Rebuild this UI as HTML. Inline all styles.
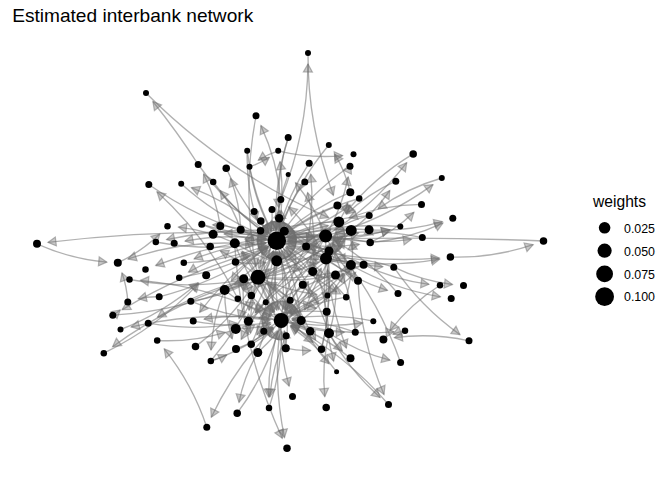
<!DOCTYPE html>
<html><head><meta charset="utf-8"><style>
html,body{margin:0;padding:0;background:#fff;width:672px;height:480px;overflow:hidden}
svg{position:absolute;left:0;top:0}
text{font-family:"Liberation Sans",sans-serif}
</style></head><body>
<svg width="672" height="480" viewBox="0 0 672 480">
<rect width="672" height="480" fill="#fff"/>
<text x="12.2" y="21.9" font-size="18.6" textLength="241" lengthAdjust="spacingAndGlyphs" fill="#000">Estimated interbank network</text>
<g fill="none" stroke="#707070" stroke-opacity="0.55" stroke-width="1.35"><path d="M198.2,164.5Q177.2,131.8 152.9,101.5"/><path d="M146.0,93.0Q225.6,172.8 328.6,217.6"/><path d="M280.8,199.5Q307.0,134.1 308.0,64.0"/><path d="M308.0,53.0Q307.5,126.7 333.4,195.3"/><path d="M280.8,199.5Q277.2,160.7 260.9,125.6"/><path d="M256.0,115.8Q241.9,191.3 255.8,266.4"/><path d="M288.2,137.5Q277.3,171.7 278.5,207.2"/><path d="M328.8,145.0Q296.7,183.4 280.3,230.3"/><path d="M350.3,192.3Q345.5,171.9 334.8,154.2"/><path d="M247.2,150.8Q246.1,186.5 256.9,220.3"/><path d="M278.2,150.8Q267.6,154.2 258.3,160.2"/><path d="M249.5,166.8Q260.2,163.3 269.4,157.3"/><path d="M278.2,150.8Q310.2,158.7 342.6,155.6"/><path d="M276.8,240.7Q285.3,201.3 280.0,161.6"/><path d="M309.2,163.2Q288.4,194.2 279.2,230.0"/><path d="M220.3,226.1Q216.2,198.6 203.6,174.1"/><path d="M198.2,164.5Q226.8,205.9 267.7,234.6"/><path d="M240.7,229.8Q239.8,203.1 230.5,178.4"/><path d="M226.2,168.2Q242.1,204.5 269.0,232.9"/><path d="M306.1,246.6Q314.7,210.6 310.7,174.2"/><path d="M325.6,236.0Q315.0,206.7 295.5,182.8"/><path d="M288.2,174.5Q277.9,201.3 276.9,229.7"/><path d="M304.8,182.0Q288.2,204.1 279.8,230.1"/><path d="M312.7,271.5Q317.1,231.4 307.6,192.6"/><path d="M276.8,240.7Q238.8,206.4 191.5,187.6"/><path d="M181.2,183.8Q219.2,218.1 266.5,236.8"/><path d="M240.7,229.8Q233.5,208.4 220.2,190.5"/><path d="M213.2,182.0Q235.9,213.2 267.6,234.7"/><path d="M276.8,240.7Q281.3,225.8 281.3,210.5"/><path d="M254.2,211.5Q260.1,223.4 268.9,233.0"/><path d="M272.0,209.5Q271.5,220.0 273.7,230.1"/><path d="M148.8,184.5Q202.6,222.2 266.1,238.2"/><path d="M237.8,298.7Q207.2,237.6 157.0,191.8"/><path d="M37.0,243.8Q70.4,259.0 106.8,262.1"/><path d="M117.8,262.8Q141.3,251.8 159.8,234.1"/><path d="M155.8,242.0Q211.0,252.4 266.0,242.8"/><path d="M234.8,243.2Q179.8,241.4 128.1,259.0"/><path d="M325.6,236.0Q237.7,234.8 155.8,265.5"/><path d="M276.8,240.7Q230.7,232.7 185.0,241.1"/><path d="M325.6,236.0Q257.5,235.3 194.1,258.8"/><path d="M179.2,277.8Q226.3,269.9 267.4,246.4"/><path d="M159.2,296.8Q148.5,296.4 138.3,298.8"/><path d="M159.2,296.8Q218.3,281.8 267.9,247.1"/><path d="M234.8,243.2Q207.8,230.3 178.5,227.1"/><path d="M281.2,320.4Q214.4,287.2 140.5,280.4"/><path d="M129.5,279.5Q188.6,290.2 247.2,279.4"/><path d="M127.8,302.0Q127.0,286.9 122.0,272.9"/><path d="M112.8,315.2Q116.7,312.9 120.2,310.0"/><path d="M112.8,315.2Q183.7,311.1 248.0,281.9"/><path d="M281.2,320.4Q205.4,309.7 131.2,326.9"/><path d="M258.0,277.2Q203.9,288.2 157.5,317.2"/><path d="M148.2,323.2Q193.1,331.3 237.6,323.4"/><path d="M120.5,329.5Q163.6,312.9 198.1,282.7"/><path d="M206.8,427.2Q192.4,384.2 164.3,348.9"/><path d="M157.2,340.5Q192.1,342.3 225.3,332.3"/><path d="M258.0,277.2Q178.6,298.4 112.6,346.7"/><path d="M103.8,353.2Q157.8,326.9 198.8,283.4"/><path d="M224.7,290.0Q212.7,319.0 211.0,350.0"/><path d="M276.8,240.7Q231.6,269.6 199.7,312.2"/><path d="M276.8,240.7Q246.0,227.2 212.8,224.8"/><path d="M201.8,224.3Q257.2,240.9 314.6,236.9"/><path d="M190.8,301.2Q221.3,296.8 248.4,282.6"/><path d="M325.6,236.0Q216.7,253.5 122.2,309.6"/><path d="M193.2,321.1Q231.9,328.5 270.4,322.4"/><path d="M281.2,320.4Q242.6,313.0 204.1,319.1"/><path d="M195.5,346.6Q229.3,321.4 252.2,286.5"/><path d="M210.8,361.0Q219.2,358.9 226.7,354.9"/><path d="M276.8,240.7Q229.7,248.6 188.6,272.1"/><path d="M325.6,236.0Q245.5,222.9 166.5,239.6"/><path d="M325.6,236.0Q372.9,206.6 406.7,162.7"/><path d="M413.2,153.9Q373.9,177.6 345.4,213.2"/><path d="M351.2,230.4Q374.0,213.5 389.8,190.5"/><path d="M395.8,181.2Q368.2,193.6 346.5,214.1"/><path d="M325.6,236.0Q384.2,220.1 433.0,184.6"/><path d="M441.8,178.0Q407.1,188.0 378.0,208.9"/><path d="M421.5,204.4Q383.9,204.8 349.0,217.8"/><path d="M369.1,229.8Q406.6,232.0 442.3,221.6"/><path d="M370.2,242.6Q408.4,239.2 442.9,223.1"/><path d="M370.2,242.6Q394.7,231.0 413.9,212.3"/><path d="M350.0,166.2Q350.4,165.5 350.7,164.8"/><path d="M325.6,236.0Q342.0,208.3 348.2,177.0"/><path d="M338.8,221.9Q344.5,212.9 347.7,203.0"/><path d="M359.2,198.5Q319.1,209.9 285.6,234.1"/><path d="M337.4,205.5Q308.8,215.3 285.3,233.7"/><path d="M369.2,215.6Q350.7,220.1 334.7,229.9"/><path d="M400.3,226.6Q342.6,221.8 287.3,237.5"/><path d="M276.8,240.7Q334.5,245.5 389.8,229.8"/><path d="M369.1,229.8Q369.4,228.2 369.6,226.6"/><path d="M350.3,192.3Q313.8,207.1 284.8,233.2"/><path d="M276.8,240.7Q316.9,229.3 350.4,205.1"/><path d="M370.2,242.6Q329.1,233.5 287.7,239.0"/><path d="M276.8,240.7Q318.5,244.0 358.6,232.9"/><path d="M543.5,241.0Q415.7,235.7 287.8,240.3"/><path d="M325.6,236.0Q186.4,225.8 47.9,242.4"/><path d="M450.4,257.1Q493.0,258.2 533.2,244.7"/><path d="M422.3,237.6Q379.5,228.3 336.5,234.3"/><path d="M325.6,236.0Q368.4,245.3 411.4,239.3"/><path d="M326.0,258.5Q382.9,269.2 439.6,259.2"/><path d="M393.8,267.2Q421.9,280.9 452.5,284.5"/><path d="M350.9,265.0Q392.9,289.0 440.4,296.8"/><path d="M363.6,264.7Q394.8,280.2 429.0,284.3"/><path d="M276.8,240.7Q356.7,264.7 439.4,258.1"/><path d="M398.0,293.5Q371.1,261.7 335.3,241.2"/><path d="M326.0,258.5Q354.1,279.9 387.4,290.4"/><path d="M373.3,321.2Q332.7,312.7 292.0,318.6"/><path d="M281.2,320.4Q336.8,336.4 394.1,331.8"/><path d="M276.8,240.7Q327.6,263.4 382.8,266.7"/><path d="M393.8,267.2Q366.0,257.8 337.0,258.1"/><path d="M276.8,240.7Q317.9,249.8 359.3,244.3"/><path d="M325.6,236.0Q358.4,238.4 389.8,229.8"/><path d="M469.0,340.8Q431.7,332.7 394.3,337.7"/><path d="M393.8,267.2Q420.9,306.9 459.9,334.6"/><path d="M440.0,285.3Q411.0,303.7 389.9,330.6"/><path d="M405.0,330.7Q398.8,331.9 393.1,334.2"/><path d="M400.6,362.5Q377.6,297.0 332.8,244.3"/><path d="M358.0,280.8Q360.6,340.2 384.0,394.5"/><path d="M329.0,333.3Q357.3,352.0 389.9,360.1"/><path d="M329.0,333.3Q349.0,370.0 380.1,397.4"/><path d="M281.2,320.4Q311.9,331.8 344.3,332.3"/><path d="M355.3,332.2Q350.6,286.6 330.6,245.8"/><path d="M281.2,320.4Q321.8,328.9 362.5,323.0"/><path d="M326.0,258.5Q320.5,310.7 333.6,361.2"/><path d="M325.6,236.0Q325.8,294.1 346.4,348.0"/><path d="M350.5,358.2Q323.9,335.9 291.6,324.0"/><path d="M234.8,243.2Q240.1,345.4 282.3,438.3"/><path d="M281.2,320.4Q272.2,379.5 284.5,437.5"/><path d="M281.2,320.4Q279.5,354.1 289.1,386.1"/><path d="M281.2,320.4Q268.2,357.8 268.6,397.0"/><path d="M286.2,335.8Q272.7,365.2 269.7,397.0"/><path d="M237.2,413.2Q265.2,375.7 278.3,331.0"/><path d="M257.8,352.5Q244.2,376.0 239.0,402.4"/><path d="M281.2,320.4Q237.3,362.6 211.3,417.2"/><path d="M329.0,333.3Q321.5,364.7 324.8,396.6"/><path d="M251.2,344.2Q272.0,300.0 276.1,251.7"/><path d="M257.8,352.5Q276.5,303.7 276.9,251.7"/><path d="M285.8,348.2Q291.4,299.1 279.6,251.3"/><path d="M321.5,349.2Q333.6,298.4 327.2,246.9"/><path d="M301.2,320.5Q311.6,344.6 329.0,363.8"/><path d="M285.8,348.2Q298.1,351.1 310.6,350.5"/><path d="M329.0,333.3Q334.5,343.1 342.3,350.9"/><path d="M388.5,404.5Q346.8,355.9 290.9,325.5"/><path d="M236.0,349.0Q256.3,341.2 272.9,327.7"/><path d="M281.2,320.4Q268.8,326.8 258.8,336.2"/><path d="M210.8,361.0Q252.3,311.7 273.3,251.1"/><path d="M201.8,224.3Q232.6,237.8 265.8,240.2"/><path d="M240.7,229.8Q252.8,236.2 265.9,239.0"/><path d="M260.8,221.0Q264.2,227.5 268.9,233.0"/><path d="M249.5,166.8Q254.9,201.0 271.3,231.2"/><path d="M247.2,150.8Q252.4,193.2 271.6,231.0"/><path d="M280.8,199.5Q276.3,214.4 276.2,229.7"/><path d="M288.2,137.5Q273.9,182.7 276.1,229.7"/><path d="M350.0,166.2Q310.5,193.0 283.0,231.6"/><path d="M369.2,215.6Q326.0,218.5 286.7,236.0"/><path d="M369.1,229.8Q327.4,226.4 287.3,237.5"/><path d="M329.0,251.0Q309.0,242.7 287.8,241.1"/><path d="M363.6,264.7Q327.5,246.5 287.7,241.7"/><path d="M358.0,280.8Q325.8,256.0 287.4,243.8"/><path d="M346.2,297.2Q320.7,266.3 286.4,246.1"/><path d="M327.5,295.4Q310.5,267.7 285.5,247.4"/><path d="M329.0,333.3Q313.9,287.0 283.8,249.2"/><path d="M301.2,320.5Q297.5,283.7 281.8,250.5"/><path d="M281.2,320.4Q286.2,285.6 279.3,251.4"/><path d="M276.7,260.8Q277.6,256.2 277.7,251.7"/><path d="M248.4,321.2Q267.8,288.6 275.0,251.5"/><path d="M251.3,295.5Q266.3,275.1 273.8,251.3"/><path d="M258.0,277.2Q267.6,265.2 273.2,251.1"/><path d="M224.7,290.0Q251.0,273.5 270.2,249.5"/><path d="M235.5,262.0Q252.9,257.0 267.9,247.2"/><path d="M183.8,262.8Q227.0,261.2 266.7,245.1"/><path d="M234.8,243.2Q250.6,245.4 266.0,243.0"/><path d="M190.8,301.2Q229.0,317.7 270.2,320.0"/><path d="M224.7,290.0Q245.6,307.3 270.8,316.8"/><path d="M251.3,295.5Q260.3,306.6 271.8,314.6"/><path d="M265.8,302.2Q269.0,308.0 273.2,312.8"/><path d="M234.8,243.2Q248.4,281.2 274.0,312.1"/><path d="M258.0,277.2Q263.7,295.8 274.6,311.6"/><path d="M260.5,230.7Q261.7,272.1 276.9,310.3"/><path d="M276.8,240.7Q271.8,275.5 278.7,309.7"/><path d="M306.1,246.6Q289.0,276.2 282.9,309.5"/><path d="M325.6,236.0Q298.4,269.5 284.5,309.9"/><path d="M302.8,284.7Q292.2,296.3 285.5,310.3"/><path d="M329.0,251.0Q302.1,277.1 285.8,310.4"/><path d="M335.5,275.0Q308.7,289.6 288.3,312.0"/><path d="M363.6,264.7Q321.9,282.2 289.1,312.7"/><path d="M327.5,295.4Q307.1,301.6 289.9,313.7"/><path d="M346.2,297.2Q316.9,301.5 290.8,315.0"/><path d="M301.2,320.5Q296.7,319.6 292.2,319.5"/><path d="M355.3,332.2Q324.6,320.8 292.2,320.3"/><path d="M310.2,331.2Q301.5,325.8 291.9,322.9"/><path d="M321.5,349.2Q308.0,334.8 291.0,325.3"/><path d="M336.6,371.8Q317.3,345.0 290.4,326.4"/><path d="M285.8,348.2Q286.1,339.4 284.3,331.0"/><path d="M269.0,408.0Q282.0,370.6 281.6,331.4"/><path d="M251.2,344.2Q263.7,337.9 273.7,328.4"/><path d="M263.8,331.2Q268.3,329.5 272.4,327.0"/><path d="M210.8,361.0Q244.8,349.5 272.7,327.4"/><path d="M235.8,328.9Q253.8,329.1 270.8,324.0"/><path d="M240.7,229.8Q277.2,239.9 314.7,237.1"/><path d="M358.0,280.8Q348.6,260.2 333.4,243.8"/><path d="M276.7,260.8Q298.3,254.8 316.7,242.5"/><path d="M351.2,230.4Q343.4,230.5 336.0,232.4"/><path d="M279.2,218.2Q295.2,238.7 316.6,252.8"/><path d="M321.5,349.2Q331.5,309.7 327.4,269.4"/><path d="M257.8,352.5Q297.2,316.1 321.2,268.4"/><path d="M276.7,260.8Q306.4,249.5 330.5,229.2"/><path d="M284.3,231.3Q306.9,231.9 328.3,225.5"/><path d="M224.7,290.0Q283.3,269.2 330.5,229.2"/><path d="M312.7,271.5Q331.6,258.0 345.1,239.5"/><path d="M258.0,277.2Q304.0,264.6 342.4,237.0"/><path d="M346.2,297.2Q353.9,269.6 352.2,241.4"/><path d="M235.5,262.0Q250.7,264.6 265.9,262.7"/><path d="M350.9,265.0Q319.6,256.9 287.6,259.6"/><path d="M338.8,221.9Q290.2,222.1 245.0,239.1"/><path d="M285.8,348.2Q272.2,296.0 241.3,252.1"/><path d="M251.3,295.5Q243.5,306.2 239.0,318.4"/><path d="M363.6,264.7Q298.6,282.6 244.5,322.3"/><path d="M326.7,311.7Q292.1,309.1 258.9,318.1"/><path d="M351.2,230.4Q295.5,262.8 255.2,312.6"/><path d="M234.8,243.2Q266.2,262.3 301.9,269.6"/><path d="M301.2,320.5Q327.2,301.0 345.0,274.3"/><path d="M279.2,218.2Q306.4,244.9 340.8,260.7"/><path d="M290.2,300.3Q280.2,289.6 267.8,282.3"/><path d="M301.2,320.5Q287.0,299.1 266.9,283.6"/><path d="M258.0,277.2Q264.2,273.7 269.3,268.9"/><path d="M258.0,277.2Q290.7,265.3 317.3,243.2"/><path d="M258.0,277.2Q286.0,290.8 316.5,294.4"/><path d="M258.0,277.2Q249.5,304.8 250.5,333.3"/><path d="M258.0,277.2Q291.5,282.9 324.7,277.2"/><path d="M258.0,277.2Q245.5,279.3 234.3,284.7"/><path d="M258.0,277.2Q252.0,263.0 242.3,251.3"/><path d="M258.0,277.2Q241.2,260.9 220.3,250.9"/><path d="M258.0,277.2Q279.8,314.8 312.9,342.4"/><path d="M258.0,277.2Q262.5,259.6 261.6,241.6"/><path d="M258.0,277.2Q254.9,257.2 246.0,239.4"/><path d="M258.0,277.2Q251.0,293.2 249.1,310.3"/><path d="M258.0,277.2Q272.2,298.6 292.3,314.1"/><path d="M258.0,277.2Q255.7,280.9 254.2,284.9"/><path d="M258.0,277.2Q288.4,275.0 316.0,263.1"/><path d="M258.0,277.2Q274.6,245.5 279.5,210.4"/><path d="M258.0,277.2Q306.5,281.1 353.1,267.9"/><path d="M258.0,277.2Q284.5,297.9 316.2,308.5"/><path d="M258.0,277.2Q269.6,249.8 271.6,220.5"/><path d="M258.0,277.2Q250.3,282.7 244.3,289.8"/><path d="M276.8,240.7Q250.5,257.2 231.3,281.2"/><path d="M276.8,240.7Q292.4,276.1 318.9,303.9"/><path d="M276.8,240.7Q302.3,271.6 336.6,291.8"/><path d="M276.8,240.7Q261.0,238.5 245.6,240.9"/><path d="M276.8,240.7Q287.2,294.0 315.6,340.0"/><path d="M281.2,320.4Q298.0,303.1 308.3,281.6"/><path d="M281.2,320.4Q284.5,315.8 286.7,310.7"/><path d="M281.2,320.4Q316.7,302.2 343.6,273.2"/><path d="M281.2,320.4Q322.9,302.9 355.7,272.4"/><path d="M325.6,236.0Q318.5,247.7 315.0,260.7"/><path d="M325.6,236.0Q273.7,280.0 241.2,339.3"/><path d="M325.6,236.0Q335.0,256.6 350.2,273.0"/><path d="M326.0,258.5Q333.2,246.3 336.6,232.7"/><path d="M326.0,258.5Q311.7,229.4 288.8,207.0"/><path d="M326.0,258.5Q285.8,279.6 255.6,312.9"/><path d="M243.7,278.7Q255.9,312.5 278.5,339.9"/><path d="M243.7,278.7Q241.4,306.7 248.2,333.7"/><path d="M224.7,290.0Q224.5,315.1 232.2,338.7"/><path d="M224.7,290.0Q288.6,274.2 342.3,236.8"/><path d="M329.0,251.0Q277.9,232.9 224.1,233.9"/><path d="M329.0,333.3Q336.4,310.1 336.1,286.0"/><path d="M329.0,333.3Q326.6,293.2 310.7,256.6"/><path d="M351.2,230.4Q294.2,274.0 256.9,334.8"/><path d="M351.2,230.4Q320.8,266.2 304.8,310.1"/><path d="M338.8,221.9Q292.5,247.3 258.3,287.0"/><path d="M338.8,221.9Q325.5,260.4 326.3,300.7"/></g>
<g fill="#707070" fill-opacity="0.38" stroke="#707070" stroke-opacity="0.5" stroke-width="1.2"><polygon points="152.9,101.5 161.5,105.0 154.4,110.6"/><polygon points="328.6,217.6 319.5,218.5 323.1,210.3"/><polygon points="308.0,64.0 312.4,72.1 303.4,71.9"/><polygon points="333.4,195.3 326.4,189.4 334.8,186.2"/><polygon points="260.9,125.6 268.3,131.0 260.2,134.8"/><polygon points="255.8,266.4 250.0,259.4 258.8,257.7"/><polygon points="278.5,207.2 273.8,199.4 282.8,199.1"/><polygon points="280.3,230.3 278.7,221.2 287.2,224.2"/><polygon points="334.8,154.2 342.8,158.7 335.1,163.3"/><polygon points="256.9,220.3 250.2,214.1 258.7,211.3"/><polygon points="258.3,160.2 262.6,152.1 267.5,159.6"/><polygon points="269.4,157.3 265.2,165.4 260.3,157.9"/><polygon points="342.6,155.6 335.0,160.8 334.2,151.8"/><polygon points="280.0,161.6 285.5,168.9 276.6,170.1"/><polygon points="279.2,230.0 276.9,221.1 285.6,223.3"/><polygon points="203.6,174.1 211.3,179.2 203.3,183.3"/><polygon points="267.7,234.6 258.5,233.6 263.7,226.3"/><polygon points="230.5,178.4 237.5,184.3 229.1,187.5"/><polygon points="269.0,232.9 260.3,230.2 266.8,224.0"/><polygon points="310.7,174.2 316.1,181.6 307.1,182.6"/><polygon points="295.5,182.8 304.0,186.2 297.0,191.9"/><polygon points="276.9,229.7 272.7,221.5 281.7,221.9"/><polygon points="279.8,230.1 278.0,221.1 286.6,223.9"/><polygon points="307.6,192.6 313.9,199.3 305.1,201.5"/><polygon points="191.5,187.6 200.6,186.4 197.3,194.8"/><polygon points="266.5,236.8 257.4,238.1 260.7,229.7"/><polygon points="220.2,190.5 228.6,194.3 221.3,199.7"/><polygon points="267.6,234.7 258.4,233.9 263.5,226.5"/><polygon points="281.3,210.5 285.8,218.5 276.8,218.5"/><polygon points="268.9,233.0 260.2,230.1 266.9,224.1"/><polygon points="273.7,230.1 267.6,223.3 276.4,221.4"/><polygon points="266.1,238.2 257.2,240.6 259.4,231.9"/><polygon points="157.0,191.8 165.9,193.9 159.8,200.5"/><polygon points="106.8,262.1 98.4,265.9 99.2,256.9"/><polygon points="159.8,234.1 157.1,242.8 150.9,236.3"/><polygon points="266.0,242.8 258.9,248.6 257.3,239.7"/><polygon points="128.1,259.0 134.2,252.2 137.1,260.7"/><polygon points="155.8,265.5 161.7,258.5 164.8,266.9"/><polygon points="185.0,241.1 192.0,235.2 193.7,244.1"/><polygon points="194.1,258.8 200.0,251.8 203.1,260.3"/><polygon points="267.4,246.4 262.7,254.2 258.2,246.4"/><polygon points="138.3,298.8 145.1,292.6 147.1,301.4"/><polygon points="267.9,247.1 263.9,255.4 258.8,248.0"/><polygon points="178.5,227.1 186.9,223.5 185.9,232.5"/><polygon points="140.5,280.4 148.9,276.6 148.0,285.6"/><polygon points="247.2,279.4 240.2,285.2 238.5,276.4"/><polygon points="122.0,272.9 128.9,278.9 120.4,281.9"/><polygon points="120.2,310.0 117.0,318.6 111.2,311.7"/><polygon points="248.0,281.9 242.6,289.3 238.9,281.1"/><polygon points="131.2,326.9 138.0,320.7 140.0,329.5"/><polygon points="157.5,317.2 161.9,309.2 166.6,316.8"/><polygon points="237.6,323.4 230.5,329.2 229.0,320.3"/><polygon points="198.1,282.7 195.0,291.4 189.1,284.6"/><polygon points="164.3,348.9 172.8,352.4 165.8,358.0"/><polygon points="225.3,332.3 218.9,338.9 216.3,330.3"/><polygon points="112.6,346.7 116.4,338.3 121.7,345.6"/><polygon points="198.8,283.4 196.6,292.3 190.0,286.1"/><polygon points="211.0,350.0 207.0,341.8 216.0,342.3"/><polygon points="199.7,312.2 200.9,303.1 208.1,308.5"/><polygon points="212.8,224.8 221.1,220.9 220.4,229.9"/><polygon points="314.6,236.9 307.0,242.0 306.4,233.0"/><polygon points="248.4,282.6 243.4,290.3 239.2,282.3"/><polygon points="122.2,309.6 126.8,301.6 131.3,309.4"/><polygon points="270.4,322.4 263.2,328.1 261.8,319.2"/><polygon points="204.1,319.1 211.3,313.4 212.7,322.3"/><polygon points="252.2,286.5 251.5,295.7 244.0,290.7"/><polygon points="226.7,354.9 221.7,362.6 217.5,354.6"/><polygon points="188.6,272.1 193.3,264.3 197.8,272.1"/><polygon points="166.5,239.6 173.4,233.6 175.2,242.4"/><polygon points="406.7,162.7 405.4,171.8 398.2,166.3"/><polygon points="345.4,213.2 347.0,204.1 354.0,209.8"/><polygon points="389.8,190.5 389.0,199.6 381.6,194.5"/><polygon points="346.5,214.1 349.3,205.3 355.4,211.9"/><polygon points="433.0,184.6 429.2,192.9 423.9,185.6"/><polygon points="378.0,208.9 381.8,200.6 387.1,207.9"/><polygon points="349.0,217.8 354.9,210.8 358.0,219.3"/><polygon points="442.3,221.6 435.8,228.1 433.3,219.5"/><polygon points="442.9,223.1 437.5,230.6 433.7,222.4"/><polygon points="413.9,212.3 411.3,221.1 405.0,214.7"/><polygon points="350.7,164.8 351.4,174.0 343.2,170.2"/><polygon points="348.2,177.0 351.0,185.8 342.2,184.0"/><polygon points="347.7,203.0 349.5,212.0 340.9,209.2"/><polygon points="285.6,234.1 289.4,225.7 294.7,233.0"/><polygon points="285.3,233.7 288.8,225.2 294.3,232.3"/><polygon points="334.7,229.9 339.2,221.9 343.9,229.6"/><polygon points="287.3,237.5 293.8,231.0 296.2,239.7"/><polygon points="389.8,229.8 383.3,236.3 380.9,227.6"/><polygon points="369.6,226.6 373.1,235.1 364.2,234.0"/><polygon points="284.8,233.2 287.8,224.5 293.8,231.2"/><polygon points="350.4,205.1 346.6,213.5 341.3,206.2"/><polygon points="287.7,239.0 295.0,233.5 296.2,242.4"/><polygon points="358.6,232.9 352.0,239.4 349.7,230.7"/><polygon points="287.8,240.3 295.6,235.5 295.9,244.5"/><polygon points="47.9,242.4 55.3,237.0 56.4,245.9"/><polygon points="533.2,244.7 527.0,251.5 524.1,243.0"/><polygon points="336.5,234.3 343.8,228.7 345.0,237.6"/><polygon points="411.4,239.3 404.1,244.9 402.9,236.0"/><polygon points="439.6,259.2 432.5,265.0 430.9,256.1"/><polygon points="452.5,284.5 444.1,288.0 445.1,279.1"/><polygon points="440.4,296.8 431.7,299.9 433.2,291.1"/><polygon points="429.0,284.3 420.6,287.8 421.6,278.9"/><polygon points="439.4,258.1 431.8,263.2 431.1,254.2"/><polygon points="335.3,241.2 344.5,241.3 340.0,249.1"/><polygon points="387.4,290.4 378.4,292.3 381.2,283.7"/><polygon points="292.0,318.6 299.3,313.0 300.6,321.9"/><polygon points="394.1,331.8 386.4,336.9 385.7,327.9"/><polygon points="382.8,266.7 374.5,270.7 375.1,261.7"/><polygon points="337.0,258.1 345.0,253.5 345.0,262.5"/><polygon points="359.3,244.3 352.0,249.8 350.8,240.9"/><polygon points="389.8,229.8 383.2,236.2 380.9,227.5"/><polygon points="394.3,337.7 401.6,332.2 402.8,341.1"/><polygon points="459.9,334.6 450.8,333.6 456.0,326.3"/><polygon points="389.9,330.6 391.4,321.5 398.4,327.1"/><polygon points="393.1,334.2 398.8,327.0 402.2,335.3"/><polygon points="332.8,244.3 341.4,247.5 334.6,253.3"/><polygon points="384.0,394.5 376.7,388.9 385.0,385.3"/><polygon points="389.9,360.1 381.0,362.5 383.2,353.8"/><polygon points="380.1,397.4 371.1,395.5 377.1,388.7"/><polygon points="344.3,332.3 336.2,336.7 336.4,327.7"/><polygon points="330.6,245.8 338.2,251.0 330.1,254.9"/><polygon points="362.5,323.0 355.2,328.6 353.9,319.7"/><polygon points="333.6,361.2 327.3,354.5 336.0,352.3"/><polygon points="346.4,348.0 339.4,342.2 347.8,339.0"/><polygon points="291.6,324.0 300.7,322.5 297.5,331.0"/><polygon points="282.3,438.3 274.9,432.9 283.1,429.1"/><polygon points="284.5,437.5 278.5,430.6 287.3,428.8"/><polygon points="289.1,386.1 282.5,379.7 291.1,377.1"/><polygon points="268.6,397.0 264.0,389.1 273.0,389.0"/><polygon points="269.7,397.0 266.0,388.6 275.0,389.5"/><polygon points="278.3,331.0 280.4,340.0 271.7,337.4"/><polygon points="239.0,402.4 236.2,393.7 245.0,395.4"/><polygon points="211.3,417.2 210.7,408.1 218.8,412.0"/><polygon points="324.8,396.6 319.5,389.1 328.5,388.2"/><polygon points="276.1,251.7 279.9,260.0 270.9,259.3"/><polygon points="276.9,251.7 281.3,259.7 272.3,259.7"/><polygon points="279.6,251.3 285.9,258.0 277.2,260.2"/><polygon points="327.2,246.9 332.6,254.3 323.7,255.4"/><polygon points="329.0,363.8 320.3,360.9 327.0,354.9"/><polygon points="310.6,350.5 302.8,355.3 302.4,346.3"/><polygon points="342.3,350.9 333.5,348.4 339.9,342.1"/><polygon points="290.9,325.5 300.1,325.4 295.8,333.3"/><polygon points="272.9,327.7 269.6,336.2 263.9,329.2"/><polygon points="258.8,336.2 261.5,327.5 267.7,334.0"/><polygon points="273.3,251.1 274.9,260.2 266.4,257.2"/><polygon points="265.8,240.2 257.5,244.1 258.2,235.1"/><polygon points="265.9,239.0 257.2,241.8 259.0,233.0"/><polygon points="268.9,233.0 260.3,229.8 267.2,224.0"/><polygon points="271.3,231.2 263.5,226.3 271.4,222.0"/><polygon points="271.6,231.0 264.0,225.9 272.0,221.8"/><polygon points="276.2,229.7 271.8,221.7 280.8,221.7"/><polygon points="276.1,229.7 271.2,221.9 280.2,221.5"/><polygon points="283.0,231.6 284.0,222.5 291.3,227.7"/><polygon points="286.7,236.0 292.2,228.7 295.9,236.9"/><polygon points="287.3,237.5 293.9,231.1 296.2,239.7"/><polygon points="287.8,241.1 296.1,237.3 295.4,246.2"/><polygon points="287.7,241.7 296.2,238.2 295.1,247.2"/><polygon points="287.4,243.8 296.3,241.9 293.6,250.5"/><polygon points="286.4,246.1 295.6,246.3 291.0,254.0"/><polygon points="285.5,247.4 294.6,249.0 288.9,255.9"/><polygon points="283.8,249.2 292.3,252.7 285.2,258.2"/><polygon points="281.8,250.5 289.3,255.8 281.1,259.7"/><polygon points="279.3,251.4 285.3,258.4 276.4,260.1"/><polygon points="277.7,251.7 282.0,259.8 273.0,259.5"/><polygon points="275.0,251.5 277.9,260.3 269.0,258.5"/><polygon points="273.8,251.3 275.7,260.3 267.1,257.5"/><polygon points="273.2,251.1 274.4,260.2 266.1,256.8"/><polygon points="270.2,249.5 268.7,258.5 261.7,252.9"/><polygon points="267.9,247.2 263.7,255.3 258.7,247.8"/><polygon points="266.7,245.1 261.0,252.2 257.6,243.9"/><polygon points="266.0,243.0 258.8,248.6 257.4,239.7"/><polygon points="270.2,320.0 262.0,324.1 262.5,315.1"/><polygon points="270.8,316.8 261.7,318.2 264.9,309.8"/><polygon points="271.8,314.6 262.7,313.8 267.8,306.4"/><polygon points="273.2,312.8 264.6,309.7 271.4,303.8"/><polygon points="274.0,312.1 265.4,308.8 272.4,303.1"/><polygon points="274.6,311.6 266.3,307.6 273.7,302.5"/><polygon points="276.9,310.3 269.8,304.5 278.1,301.2"/><polygon points="278.7,309.7 272.7,302.7 281.6,301.0"/><polygon points="282.9,309.5 279.9,300.8 288.8,302.5"/><polygon points="284.5,309.9 282.9,300.9 291.4,303.8"/><polygon points="285.5,310.3 284.9,301.1 293.0,305.0"/><polygon points="285.8,310.4 285.3,301.2 293.4,305.2"/><polygon points="288.3,312.0 290.4,303.1 297.1,309.1"/><polygon points="289.1,312.7 291.9,304.0 298.0,310.6"/><polygon points="289.9,313.7 293.9,305.4 299.1,312.8"/><polygon points="290.8,315.0 295.8,307.4 300.0,315.4"/><polygon points="292.2,319.5 300.3,315.2 300.0,324.2"/><polygon points="292.2,320.3 300.3,315.9 300.1,324.9"/><polygon points="291.9,322.9 300.9,320.9 298.2,329.5"/><polygon points="291.0,325.3 300.2,325.3 295.8,333.2"/><polygon points="290.4,326.4 299.6,327.3 294.4,334.7"/><polygon points="284.3,331.0 290.3,337.9 281.5,339.7"/><polygon points="281.6,331.4 286.2,339.3 277.2,339.4"/><polygon points="273.7,328.4 270.9,337.2 264.7,330.6"/><polygon points="272.4,327.0 267.9,335.0 263.3,327.3"/><polygon points="272.7,327.4 269.2,335.9 263.7,328.8"/><polygon points="270.8,324.0 264.4,330.6 261.9,322.0"/><polygon points="314.7,237.1 307.0,242.2 306.3,233.2"/><polygon points="333.4,243.8 342.1,246.6 335.5,252.7"/><polygon points="316.7,242.5 312.5,250.6 307.5,243.2"/><polygon points="336.0,232.4 342.7,226.1 344.9,234.8"/><polygon points="316.6,252.8 307.5,252.1 312.4,244.6"/><polygon points="327.4,269.4 332.6,276.9 323.7,277.8"/><polygon points="321.2,268.4 321.6,277.6 313.6,273.5"/><polygon points="330.5,229.2 327.3,237.8 321.5,230.9"/><polygon points="328.3,225.5 322.0,232.1 319.4,223.4"/><polygon points="330.5,229.2 327.3,237.8 321.5,230.9"/><polygon points="345.1,239.5 344.0,248.6 336.7,243.3"/><polygon points="342.4,237.0 338.6,245.3 333.3,238.0"/><polygon points="352.2,241.4 357.2,249.1 348.2,249.6"/><polygon points="265.9,262.7 258.5,268.2 257.4,259.2"/><polygon points="287.6,259.6 295.2,254.4 296.0,263.4"/><polygon points="245.0,239.1 250.9,232.1 254.1,240.5"/><polygon points="241.3,252.1 249.6,256.1 242.2,261.2"/><polygon points="239.0,318.4 237.5,309.3 246.0,312.4"/><polygon points="244.5,322.3 248.3,313.9 253.6,321.2"/><polygon points="258.9,318.1 265.5,311.7 267.8,320.3"/><polygon points="255.2,312.6 256.7,303.5 263.7,309.2"/><polygon points="301.9,269.6 293.1,272.4 294.9,263.5"/><polygon points="345.0,274.3 344.3,283.5 336.9,278.4"/><polygon points="340.8,260.7 331.6,261.4 335.4,253.2"/><polygon points="267.8,282.3 276.9,282.5 272.4,290.2"/><polygon points="266.9,283.6 276.0,285.0 270.5,292.1"/><polygon points="269.3,268.9 266.4,277.7 260.4,271.0"/><polygon points="317.3,243.2 314.0,251.8 308.3,244.9"/><polygon points="316.5,294.4 308.1,297.9 309.1,289.0"/><polygon points="250.5,333.3 245.8,325.4 254.8,325.1"/><polygon points="324.7,277.2 317.6,283.0 316.1,274.1"/><polygon points="234.3,284.7 239.6,277.2 243.5,285.3"/><polygon points="242.3,251.3 250.8,254.6 243.9,260.3"/><polygon points="220.3,250.9 229.4,250.3 225.5,258.4"/><polygon points="312.9,342.4 303.9,340.7 309.6,333.8"/><polygon points="261.6,241.6 266.5,249.4 257.5,249.9"/><polygon points="246.0,239.4 253.6,244.6 245.6,248.6"/><polygon points="249.1,310.3 245.5,301.8 254.5,302.8"/><polygon points="292.3,314.1 283.2,312.7 288.7,305.6"/><polygon points="254.2,284.9 252.9,275.8 261.3,279.1"/><polygon points="316.0,263.1 310.4,270.4 306.9,262.2"/><polygon points="279.5,210.4 282.8,219.0 273.9,217.7"/><polygon points="353.1,267.9 346.6,274.4 344.2,265.7"/><polygon points="316.2,308.5 307.2,310.2 310.0,301.7"/><polygon points="271.6,220.5 275.5,228.8 266.5,228.2"/><polygon points="244.3,289.8 246.0,280.8 252.9,286.6"/><polygon points="231.3,281.2 232.8,272.2 239.8,277.8"/><polygon points="318.9,303.9 310.1,301.2 316.7,295.0"/><polygon points="336.6,291.8 327.4,291.6 332.0,283.9"/><polygon points="245.6,240.9 252.8,235.3 254.2,244.2"/><polygon points="315.6,340.0 307.5,335.5 315.2,330.8"/><polygon points="308.3,281.6 308.9,290.7 300.8,286.8"/><polygon points="286.7,310.7 287.6,319.9 279.4,316.2"/><polygon points="343.6,273.2 341.4,282.1 334.9,276.0"/><polygon points="355.7,272.4 352.9,281.1 346.8,274.5"/><polygon points="315.0,260.7 312.7,251.8 321.4,254.2"/><polygon points="241.2,339.3 241.1,330.1 249.0,334.4"/><polygon points="350.2,273.0 341.5,270.2 348.1,264.1"/><polygon points="336.6,232.7 339.0,241.6 330.3,239.3"/><polygon points="288.8,207.0 297.7,209.4 291.4,215.8"/><polygon points="255.6,312.9 257.7,304.0 264.3,310.0"/><polygon points="278.5,339.9 270.0,336.6 276.9,330.9"/><polygon points="248.2,333.7 241.9,327.0 250.6,324.8"/><polygon points="232.2,338.7 225.5,332.5 234.0,329.7"/><polygon points="342.3,236.8 338.3,245.1 333.2,237.7"/><polygon points="224.1,233.9 232.0,229.3 232.2,238.3"/><polygon points="336.1,286.0 340.7,293.9 331.7,294.0"/><polygon points="310.7,256.6 318.0,262.2 309.7,265.7"/><polygon points="256.9,334.8 257.2,325.6 264.9,330.4"/><polygon points="304.8,310.1 303.3,301.0 311.7,304.1"/><polygon points="258.3,287.0 260.1,278.0 267.0,283.9"/><polygon points="326.3,300.7 321.6,292.8 330.6,292.6"/></g>
<g fill="#000"><circle cx="146.0" cy="93.0" r="3.00"/><circle cx="308.0" cy="53.0" r="3.00"/><circle cx="256.0" cy="115.8" r="3.50"/><circle cx="288.2" cy="137.5" r="3.50"/><circle cx="328.8" cy="145.0" r="3.00"/><circle cx="247.2" cy="150.8" r="3.00"/><circle cx="278.2" cy="150.8" r="3.00"/><circle cx="309.2" cy="163.2" r="3.50"/><circle cx="198.2" cy="164.5" r="3.50"/><circle cx="226.2" cy="168.2" r="3.75"/><circle cx="249.5" cy="166.8" r="3.00"/><circle cx="288.2" cy="174.5" r="2.50"/><circle cx="304.8" cy="182.0" r="3.50"/><circle cx="181.2" cy="183.8" r="3.00"/><circle cx="213.2" cy="182.0" r="3.25"/><circle cx="280.8" cy="199.5" r="3.50"/><circle cx="254.2" cy="211.5" r="3.50"/><circle cx="272.0" cy="209.5" r="3.50"/><circle cx="148.8" cy="184.5" r="3.50"/><circle cx="37.0" cy="243.8" r="4.00"/><circle cx="167.5" cy="226.2" r="3.25"/><circle cx="155.8" cy="242.0" r="3.25"/><circle cx="117.8" cy="262.8" r="4.00"/><circle cx="145.5" cy="269.5" r="3.25"/><circle cx="129.5" cy="279.5" r="3.25"/><circle cx="159.2" cy="296.8" r="3.50"/><circle cx="127.8" cy="302.0" r="3.50"/><circle cx="112.8" cy="315.2" r="3.50"/><circle cx="148.2" cy="323.2" r="3.50"/><circle cx="120.5" cy="329.5" r="3.00"/><circle cx="157.2" cy="340.5" r="3.25"/><circle cx="103.8" cy="353.2" r="3.25"/><circle cx="421.5" cy="204.4" r="3.50"/><circle cx="452.8" cy="218.2" r="3.50"/><circle cx="422.3" cy="237.6" r="3.50"/><circle cx="543.5" cy="241.0" r="3.75"/><circle cx="450.4" cy="257.1" r="3.75"/><circle cx="440.0" cy="285.3" r="3.25"/><circle cx="463.5" cy="285.5" r="3.50"/><circle cx="451.2" cy="298.4" r="3.50"/><circle cx="413.2" cy="153.9" r="3.75"/><circle cx="395.8" cy="181.2" r="3.50"/><circle cx="441.8" cy="178.0" r="3.00"/><circle cx="400.3" cy="226.6" r="3.00"/><circle cx="398.0" cy="293.5" r="3.50"/><circle cx="373.3" cy="321.2" r="3.00"/><circle cx="405.0" cy="330.7" r="3.25"/><circle cx="383.4" cy="339.4" r="4.00"/><circle cx="469.0" cy="340.8" r="3.50"/><circle cx="400.6" cy="362.5" r="3.50"/><circle cx="195.5" cy="346.6" r="3.75"/><circle cx="210.8" cy="361.0" r="3.25"/><circle cx="236.0" cy="349.0" r="4.00"/><circle cx="251.2" cy="344.2" r="3.75"/><circle cx="257.8" cy="352.5" r="4.50"/><circle cx="285.8" cy="348.2" r="4.00"/><circle cx="321.5" cy="349.2" r="3.75"/><circle cx="336.6" cy="371.8" r="2.50"/><circle cx="292.5" cy="396.5" r="3.50"/><circle cx="269.0" cy="408.0" r="3.25"/><circle cx="237.2" cy="413.2" r="3.75"/><circle cx="326.2" cy="407.5" r="3.75"/><circle cx="206.8" cy="427.2" r="3.50"/><circle cx="287.0" cy="448.2" r="3.75"/><circle cx="350.5" cy="358.2" r="4.00"/><circle cx="388.5" cy="404.5" r="3.50"/><circle cx="190.8" cy="301.2" r="3.50"/><circle cx="193.2" cy="321.1" r="3.50"/><circle cx="235.8" cy="328.9" r="5.00"/><circle cx="248.4" cy="321.2" r="4.50"/><circle cx="260.8" cy="221.0" r="3.75"/><circle cx="279.2" cy="218.2" r="4.25"/><circle cx="201.8" cy="224.3" r="3.50"/><circle cx="220.3" cy="226.1" r="4.00"/><circle cx="240.7" cy="229.8" r="4.00"/><circle cx="260.5" cy="230.7" r="3.75"/><circle cx="284.3" cy="231.3" r="4.50"/><circle cx="213.1" cy="234.3" r="4.50"/><circle cx="276.8" cy="240.7" r="9.25"/><circle cx="234.8" cy="243.2" r="5.00"/><circle cx="210.2" cy="246.5" r="3.75"/><circle cx="350.3" cy="192.3" r="4.00"/><circle cx="359.2" cy="198.5" r="3.25"/><circle cx="337.4" cy="205.5" r="4.00"/><circle cx="369.2" cy="215.6" r="3.50"/><circle cx="338.8" cy="221.9" r="5.50"/><circle cx="351.2" cy="230.4" r="5.50"/><circle cx="369.1" cy="229.8" r="4.50"/><circle cx="325.6" cy="236.0" r="6.50"/><circle cx="370.2" cy="242.6" r="3.75"/><circle cx="306.1" cy="246.6" r="4.00"/><circle cx="329.0" cy="251.0" r="4.50"/><circle cx="174.2" cy="243.3" r="3.50"/><circle cx="183.8" cy="262.8" r="3.25"/><circle cx="179.2" cy="277.8" r="3.25"/><circle cx="206.2" cy="275.3" r="4.00"/><circle cx="235.5" cy="262.0" r="3.75"/><circle cx="276.7" cy="260.8" r="5.50"/><circle cx="243.7" cy="278.7" r="4.50"/><circle cx="258.0" cy="277.2" r="7.50"/><circle cx="224.7" cy="290.0" r="5.00"/><circle cx="302.8" cy="284.7" r="4.00"/><circle cx="251.3" cy="295.5" r="3.75"/><circle cx="237.8" cy="298.7" r="3.25"/><circle cx="265.8" cy="302.2" r="3.00"/><circle cx="290.2" cy="300.3" r="3.50"/><circle cx="281.2" cy="320.4" r="7.50"/><circle cx="301.2" cy="320.5" r="4.50"/><circle cx="326.0" cy="258.5" r="6.00"/><circle cx="350.9" cy="265.0" r="5.00"/><circle cx="363.6" cy="264.7" r="4.00"/><circle cx="393.8" cy="267.2" r="3.50"/><circle cx="312.7" cy="271.5" r="4.50"/><circle cx="335.5" cy="275.0" r="4.50"/><circle cx="358.0" cy="280.8" r="4.00"/><circle cx="327.5" cy="295.4" r="3.00"/><circle cx="346.2" cy="297.2" r="3.25"/><circle cx="326.7" cy="311.7" r="4.00"/><circle cx="263.8" cy="331.2" r="3.50"/><circle cx="310.2" cy="331.2" r="4.25"/><circle cx="329.0" cy="333.3" r="5.00"/><circle cx="286.2" cy="335.8" r="3.50"/><circle cx="353.5" cy="154.2" r="3.00"/><circle cx="350.0" cy="166.2" r="3.50"/><circle cx="355.3" cy="332.2" r="3.50"/></g>
<text x="593" y="206.9" font-size="16" textLength="53" lengthAdjust="spacingAndGlyphs" fill="#000">weights</text>
<g fill="#000">
<circle cx="604.6" cy="227.8" r="5.8"/><circle cx="604.6" cy="250.7" r="7.1"/>
<circle cx="604.6" cy="273.9" r="8.4"/><circle cx="604.6" cy="296.7" r="9.4"/>
</g>
<g font-size="12.5" fill="#000">
<text x="624" y="233" textLength="31" lengthAdjust="spacingAndGlyphs">0.025</text><text x="624" y="255.7" textLength="31" lengthAdjust="spacingAndGlyphs">0.050</text>
<text x="624" y="278.6" textLength="31" lengthAdjust="spacingAndGlyphs">0.075</text><text x="624" y="301.3" textLength="31" lengthAdjust="spacingAndGlyphs">0.100</text>
</g>
</svg>
</body></html>
